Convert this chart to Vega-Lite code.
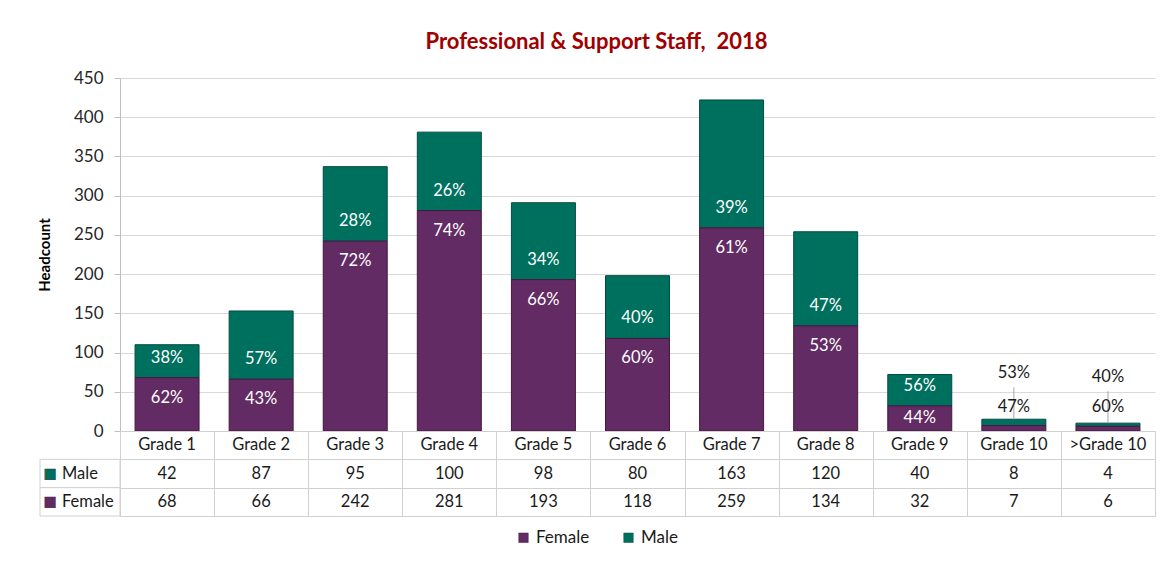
{
  "$schema": "https://vega.github.io/schema/vega-lite/v6.json",
  "padding": {"left": 37, "top": 31, "right": 8, "bottom": 10},
  "title": {"text": "Professional & Support Staff,\u00a0 2018", "color": "#a00000", "fontSize": 22, "font": "Lato", "fontWeight": "bold", "anchor": "middle", "offset": 15},
  "datasets": {
    "staff": [
      {"grade": "Grade 1", "sex": "Male", "count": 42, "pct": "38%"},
      {"grade": "Grade 1", "sex": "Female", "count": 68, "pct": "62%"},
      {"grade": "Grade 2", "sex": "Male", "count": 87, "pct": "57%"},
      {"grade": "Grade 2", "sex": "Female", "count": 66, "pct": "43%"},
      {"grade": "Grade 3", "sex": "Male", "count": 95, "pct": "28%"},
      {"grade": "Grade 3", "sex": "Female", "count": 242, "pct": "72%"},
      {"grade": "Grade 4", "sex": "Male", "count": 100, "pct": "26%"},
      {"grade": "Grade 4", "sex": "Female", "count": 281, "pct": "74%"},
      {"grade": "Grade 5", "sex": "Male", "count": 98, "pct": "34%"},
      {"grade": "Grade 5", "sex": "Female", "count": 193, "pct": "66%"},
      {"grade": "Grade 6", "sex": "Male", "count": 80, "pct": "40%"},
      {"grade": "Grade 6", "sex": "Female", "count": 118, "pct": "60%"},
      {"grade": "Grade 7", "sex": "Male", "count": 163, "pct": "39%"},
      {"grade": "Grade 7", "sex": "Female", "count": 259, "pct": "61%"},
      {"grade": "Grade 8", "sex": "Male", "count": 120, "pct": "47%"},
      {"grade": "Grade 8", "sex": "Female", "count": 134, "pct": "53%"},
      {"grade": "Grade 9", "sex": "Male", "count": 40, "pct": "56%"},
      {"grade": "Grade 9", "sex": "Female", "count": 32, "pct": "44%"},
      {"grade": "Grade 10", "sex": "Male", "count": 8, "pct": "53%"},
      {"grade": "Grade 10", "sex": "Female", "count": 7, "pct": "47%"},
      {"grade": ">Grade 10", "sex": "Male", "count": 4, "pct": "40%"},
      {"grade": ">Grade 10", "sex": "Female", "count": 6, "pct": "60%"}
    ],
    "rows": [{"row": "Male"}, {"row": "Female"}]
  },
  "columns": 2,
  "bounds": "flush",
  "spacing": 0,
  "concat": [
    {"width": 80, "height": 353, "data": {"values": []}, "mark": "point", "encoding": {}},
    {
      "width": 1035, "height": 353,
      "data": {"name": "staff"},
      "transform": [{"stack": "count", "groupby": ["grade"], "sort": [{"field": "sex", "order": "ascending"}], "as": ["y0", "y1"]}],
      "encoding": {
        "x": {"field": "grade", "type": "nominal", "sort": ["Grade 1","Grade 2","Grade 3","Grade 4","Grade 5","Grade 6","Grade 7","Grade 8","Grade 9","Grade 10",">Grade 10"], "axis": null, "scale": {"paddingInner": 0.32, "paddingOuter": 0.16}},
        "y": {"field": "y0", "type": "quantitative", "scale": {"domain": [0, 450], "nice": false},
          "axis": {"values": [0,50,100,150,200,250,300,350,400,450], "title": "Headcount", "titleFontSize": 15, "titleFontWeight": "bold", "titleColor": "#000000", "titlePadding": 21, "labelFontSize": 17, "labelColor": "#262626", "labelPadding": 11, "tickSize": 6, "tickColor": "#bfbfbf", "domainColor": "#bfbfbf", "grid": true, "gridColor": "#d9d9d9"}}
      },
      "layer": [
        {
          "mark": {"type": "bar", "strokeWidth": 1},
          "encoding": {
            "y2": {"field": "y1"},
            "color": {"field": "sex", "type": "nominal", "scale": {"domain": ["Female", "Male"], "range": ["#632b64", "#00705e"]},
              "legend": {"title": null, "orient": "bottom", "direction": "horizontal", "symbolType": "square", "symbolSize": 90, "labelFontSize": 17, "labelColor": "#1a1a1a", "columnPadding": 30, "offset": 12, "symbolStrokeColor": "#333333", "symbolStrokeWidth": 0.5}},
            "stroke": {"field": "sex", "type": "nominal", "scale": {"domain": ["Female", "Male"], "range": ["#45183f", "#004d40"]}, "legend": null}
          }
        },
        {
          "transform": [{"filter": "datum.sex == 'Male' && datum.count > 20"}],
          "mark": {"type": "text", "color": "white", "fontSize": 16.5, "dy": -20},
          "encoding": {"text": {"field": "pct"}}
        },
        {
          "transform": [{"filter": "datum.sex == 'Female' && datum.count > 40"}],
          "mark": {"type": "text", "color": "white", "fontSize": 16.5, "dy": 20},
          "encoding": {"y": {"field": "y1", "type": "quantitative"}, "text": {"field": "pct"}}
        },
        {
          "transform": [{"filter": "datum.sex == 'Female' && datum.grade == 'Grade 9'"}],
          "mark": {"type": "text", "color": "white", "fontSize": 16.5, "dy": 12},
          "encoding": {"y": {"field": "y1", "type": "quantitative"}, "text": {"field": "pct"}}
        },
        {
          "transform": [{"filter": "datum.sex == 'Male' && datum.count < 10"}],
          "mark": {"type": "rule", "color": "#a6a6a6", "strokeWidth": 1, "y2Offset": -32},
          "encoding": {"y": {"field": "y1", "type": "quantitative"}, "y2": {"field": "y1"}}
        },
        {
          "transform": [{"filter": "datum.sex == 'Male' && datum.count < 10"}],
          "mark": {"type": "text", "color": "#1a1a1a", "fontSize": 16.5, "dy": -46},
          "encoding": {"y": {"field": "y1", "type": "quantitative"}, "text": {"field": "pct"}}
        },
        {
          "transform": [{"filter": "datum.sex == 'Female' && datum.count < 10"}],
          "mark": {"type": "text", "color": "#1a1a1a", "fontSize": 16.5, "dy": -19},
          "encoding": {"y": {"field": "y1", "type": "quantitative"}, "text": {"field": "pct"}}
        }
      ]
    },
    {
      "width": 80, "height": 85,
      "data": {"name": "rows"},
      "encoding": {"y": {"field": "row", "type": "nominal", "scale": {"domain": ["cat", "Male", "Female"], "paddingInner": 0, "paddingOuter": 0}, "axis": null}},
      "layer": [
        {"mark": {"type": "rect", "fill": "white", "stroke": "#d0d0d0", "strokeWidth": 1}},
        {"mark": {"type": "text", "text": "■", "dx": -30, "fontSize": 14, "font": "DejaVu Sans", "align": "center", "stroke": "#333333", "strokeWidth": 0.4}, "encoding": {"color": {"field": "row", "type": "nominal", "legend": null}}},
        {"mark": {"type": "text", "align": "left", "dx": -18, "fontSize": 16.5, "color": "#1a1a1a"}, "encoding": {"text": {"field": "row"}}}
      ]
    },
    {
      "width": 1035, "height": 85,
      "data": {"name": "staff"},
      "view": {"stroke": "#d0d0d0"},
      "encoding": {
        "x": {"field": "grade", "type": "nominal", "sort": ["Grade 1","Grade 2","Grade 3","Grade 4","Grade 5","Grade 6","Grade 7","Grade 8","Grade 9","Grade 10",">Grade 10"], "scale": {"paddingInner": 0, "paddingOuter": 0},
          "axis": {"grid": true, "tickBand": "extent", "labels": false, "ticks": false, "domain": false, "title": null, "gridColor": "#d0d0d0"}}
      },
      "layer": [
        {
          "transform": [{"filter": "datum.sex == 'Male'"}],
          "mark": {"type": "text", "fontSize": 16.5, "color": "#1a1a1a"},
          "encoding": {
            "y": {"datum": "cat", "type": "nominal", "scale": {"domain": ["cat", "Male", "Female"], "paddingInner": 0, "paddingOuter": 0},
              "axis": {"grid": true, "tickBand": "extent", "labels": false, "ticks": false, "domain": false, "title": null, "gridColor": "#d0d0d0"}},
            "text": {"field": "grade"}
          }
        },
        {
          "mark": {"type": "text", "fontSize": 16.5, "color": "#1a1a1a"},
          "encoding": {"y": {"field": "sex", "type": "nominal", "title": null}, "text": {"field": "count"}}
        }
      ]
    }
  ],
  "config": {
    "font": "Lato",
    "view": {"stroke": null},
    "legend": {"layout": {"bottom": {"anchor": "middle"}}}
  }
}
